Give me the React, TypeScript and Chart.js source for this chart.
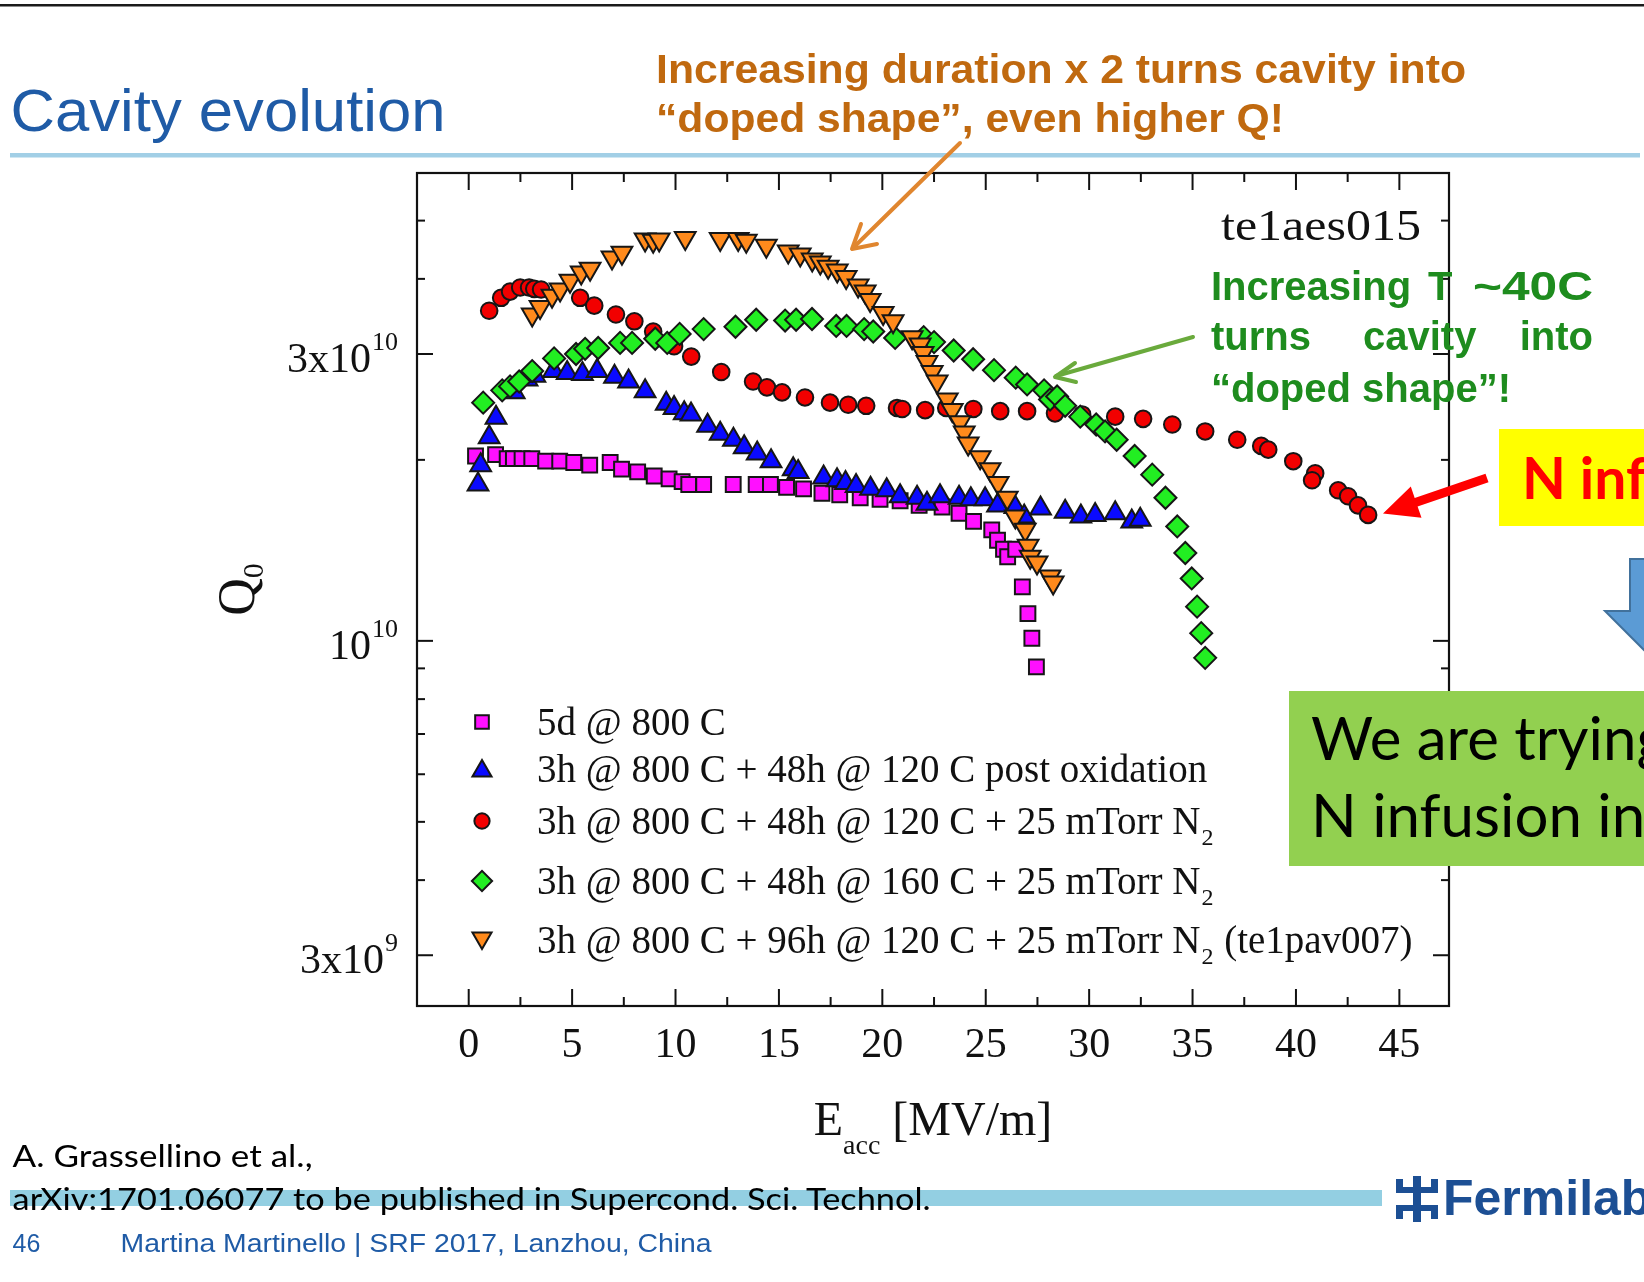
import React, { useEffect, useRef } from "react";
import { Chart, registerables } from "chart.js";

Chart.register(...registerables);

const W = 1644;
const H = 1282;

// ---------------- data ----------------
const SERIES_LABELS = [
  "5d @ 800 C",
  "3h @ 800 C + 48h @ 120 C post oxidation",
  "3h @ 800 C + 48h @ 120 C + 25 mTorr N₂",
  "3h @ 800 C + 48h @ 160 C + 25 mTorr N₂",
  "3h @ 800 C + 96h @ 120 C + 25 mTorr N₂ (te1pav007)",
];

// Eacc [MV/m] and Q0 (in units of 1e10)
const E_5d800 = [0.33, 1.3, 1.86, 2.16, 2.58, 3.05, 3.72, 4.4, 5.08, 5.85, 6.84, 7.39, 8.17, 8.97, 9.69, 10.32, 10.64, 11.36, 12.79, 13.9, 14.59, 15.37, 16.19, 17.08, 17.94, 18.93, 19.89, 20.86, 21.78, 22.89, 23.71, 24.41, 25.29, 25.57, 25.86, 26.06, 26.45, 26.77, 27.04, 27.23, 27.45];
const Q_5d800 = [2.03, 2.04, 2.01, 2.01, 2.01, 2.01, 1.99, 1.99, 1.98, 1.96, 1.98, 1.93, 1.91, 1.88, 1.86, 1.84, 1.82, 1.82, 1.82, 1.82, 1.82, 1.8, 1.79, 1.76, 1.75, 1.73, 1.72, 1.71, 1.68, 1.67, 1.63, 1.58, 1.53, 1.47, 1.42, 1.38, 1.42, 1.23, 1.11, 1.01, 0.905];

const E_postOx = [0.45, 0.58, 0.99, 1.32, 2.2, 2.82, 3.2, 4.1, 4.76, 5.5, 6.21, 7.05, 7.73, 8.53, 9.55, 9.93, 10.42, 10.75, 11.55, 12.16, 12.8, 13.32, 13.95, 14.62, 15.69, 15.93, 17.16, 17.81, 18.22, 18.73, 19.43, 20.21, 20.86, 21.68, 22.16, 22.79, 23.71, 24.28, 24.97, 25.57, 26.41, 26.86, 27.65, 28.84, 29.6, 30.29, 31.26, 32.06, 32.47];
const Q_postOx = [1.82, 1.96, 2.18, 2.35, 2.59, 2.72, 2.76, 2.81, 2.79, 2.78, 2.81, 2.75, 2.7, 2.6, 2.48, 2.44, 2.39, 2.38, 2.28, 2.21, 2.16, 2.1, 2.05, 1.99, 1.93, 1.91, 1.87, 1.85, 1.83, 1.81, 1.79, 1.78, 1.74, 1.73, 1.69, 1.74, 1.73, 1.72, 1.72, 1.68, 1.67, 1.61, 1.66, 1.64, 1.61, 1.62, 1.63, 1.58, 1.59];

const E_120N2 = [0.99, 1.57, 2.0, 2.49, 2.92, 3.17, 3.5, 5.39, 6.07, 7.12, 8.01, 8.92, 9.93, 10.76, 12.21, 13.75, 14.42, 15.15, 16.26, 17.47, 18.35, 19.22, 20.71, 20.96, 22.07, 23.09, 24.4, 25.7, 27.0, 28.35, 29.66, 31.26, 32.61, 34.02, 35.61, 37.16, 38.32, 38.66, 39.87, 40.93, 40.78, 42.04, 42.52, 43.0, 43.49];
const Q_120N2 = [3.54, 3.72, 3.81, 3.87, 3.87, 3.85, 3.84, 3.72, 3.61, 3.49, 3.4, 3.27, 3.09, 2.97, 2.8, 2.7, 2.64, 2.59, 2.54, 2.49, 2.47, 2.46, 2.44, 2.43, 2.42, 2.44, 2.43, 2.41, 2.41, 2.39, 2.38, 2.36, 2.34, 2.29, 2.23, 2.16, 2.11, 2.08, 1.99, 1.9, 1.85, 1.78, 1.74, 1.68, 1.62];

const E_160N2 = [0.7, 1.62, 2.0, 2.44, 3.07, 4.13, 5.19, 5.63, 6.26, 7.32, 7.9, 9.02, 9.6, 10.2, 11.36, 12.9, 13.9, 15.3, 15.83, 16.6, 17.77, 18.27, 19.12, 19.56, 20.62, 22.0, 22.5, 23.45, 24.39, 25.4, 26.45, 27.0, 27.82, 28.11, 28.45, 28.84, 29.57, 30.34, 30.77, 31.33, 32.2, 33.05, 33.69, 34.26, 34.65, 34.96, 35.22, 35.42, 35.61];
const Q_160N2 = [2.49, 2.61, 2.65, 2.7, 2.81, 2.95, 3.0, 3.06, 3.07, 3.13, 3.13, 3.18, 3.13, 3.24, 3.3, 3.33, 3.42, 3.41, 3.42, 3.43, 3.34, 3.34, 3.3, 3.27, 3.19, 3.2, 3.14, 3.04, 2.94, 2.82, 2.74, 2.67, 2.61, 2.52, 2.55, 2.46, 2.36, 2.29, 2.23, 2.16, 2.03, 1.89, 1.73, 1.55, 1.4, 1.27, 1.14, 1.03, 0.937];

const E_96h = [3.07, 3.45, 4.03, 4.42, 4.9, 5.44, 5.87, 6.93, 7.41, 8.53, 8.92, 9.21, 10.47, 12.16, 13.03, 13.42, 14.39, 15.45, 16.03, 16.61, 17.0, 17.38, 17.82, 18.25, 18.83, 19.17, 19.41, 20.04, 20.52, 21.44, 21.83, 21.97, 22.16, 22.41, 22.65, 23.14, 23.38, 23.76, 23.96, 24.15, 24.73, 25.21, 25.6, 26.04, 26.43, 26.91, 27.05, 27.15, 27.48, 28.11, 28.26];
const Q_96h = [3.49, 3.59, 3.75, 3.84, 3.97, 4.1, 4.16, 4.34, 4.42, 4.65, 4.63, 4.65, 4.68, 4.66, 4.66, 4.63, 4.54, 4.44, 4.39, 4.31, 4.26, 4.19, 4.13, 4.03, 3.9, 3.81, 3.69, 3.51, 3.4, 3.2, 3.11, 3.01, 2.91, 2.8, 2.7, 2.52, 2.42, 2.31, 2.22, 2.13, 2.02, 1.93, 1.83, 1.73, 1.61, 1.53, 1.44, 1.38, 1.35, 1.28, 1.25];

// axes
const X_MIN = -2.5;
const X_MAX = 47.4;
const Y_MIN = 2.47e9;
const Y_MAX = 6.0e10;
const X_MAJOR_TICKS = [0, 5, 10, 15, 20, 25, 30, 35, 40, 45];
const X_MINOR_TICKS = [2.5, 7.5, 12.5, 17.5, 22.5, 27.5, 32.5, 37.5, 42.5];
const Y_MAJOR_TICKS = [3e9, 1e10, 3e10];
const Y_TICK_MAIN = ["3x10", "10", "3x10"];
const Y_TICK_SUP = ["9", "10", "10"];
const Y_MINOR_TICKS = [4e9, 5e9, 6e9, 7e9, 8e9, 9e9, 2e10, 4e10, 5e10];

// styles
const SERIES_STYLE = [
  { fill: "#ff10ff", shape: "rect", radius: 10.5, rotation: 0, order: 5 },
  { fill: "#0a0aff", shape: "triangle", radius: 12, rotation: 0, order: 4 },
  { fill: "#f20000", shape: "circle", radius: 8.3, rotation: 0, order: 3 },
  { fill: "#22ee22", shape: "rectRot", radius: 11, rotation: 0, order: 2 },
  { fill: "#ff8a1c", shape: "triangle", radius: 12, rotation: 180, order: 1 },
];
const SERIES_E = [E_5d800, E_postOx, E_120N2, E_160N2, E_96h];
const SERIES_Q = [Q_5d800, Q_postOx, Q_120N2, Q_160N2, Q_96h];

const SERIF = '"Liberation Serif", "Times New Roman", serif';
const EDGE = "#161616";

function drawMarker(ctx: CanvasRenderingContext2D, shape: string, x: number, y: number, r: number, rotation: number, fill: string) {
  ctx.beginPath();
  if (shape === "circle") {
    ctx.arc(x, y, r, 0, Math.PI * 2);
  } else if (shape === "rect") {
    const s = Math.SQRT1_2 * r;
    ctx.rect(x - s, y - s, 2 * s, 2 * s);
  } else if (shape === "rectRot") {
    ctx.moveTo(x - r, y);
    ctx.lineTo(x, y - r);
    ctx.lineTo(x + r, y);
    ctx.lineTo(x, y + r);
    ctx.closePath();
  } else {
    let a = (rotation * Math.PI) / 180;
    ctx.moveTo(x + Math.sin(a) * r, y - Math.cos(a) * r);
    a += (2 * Math.PI) / 3;
    ctx.lineTo(x + Math.sin(a) * r, y - Math.cos(a) * r);
    a += (2 * Math.PI) / 3;
    ctx.lineTo(x + Math.sin(a) * r, y - Math.cos(a) * r);
    ctx.closePath();
  }
  ctx.fillStyle = fill;
  ctx.fill();
  ctx.lineWidth = 2;
  ctx.strokeStyle = EDGE;
  ctx.stroke();
}

const framePlugin = {
  id: "frameAndText",
  afterDatasetsDraw(chart: any) {
    const ctx: CanvasRenderingContext2D = chart.ctx;
    const a = chart.chartArea;
    const xs = chart.scales.x;
    const ys = chart.scales.y;
    ctx.save();

    // frame
    ctx.strokeStyle = "#111";
    ctx.lineWidth = 2.2;
    ctx.strokeRect(a.left, a.top, a.right - a.left, a.bottom - a.top);

    const seg = (x1: number, y1: number, x2: number, y2: number) => {
      ctx.beginPath();
      ctx.moveTo(x1, y1);
      ctx.lineTo(x2, y2);
      ctx.stroke();
    };
    ctx.lineWidth = 2;
    X_MAJOR_TICKS.forEach((v) => {
      const px = xs.getPixelForValue(v);
      seg(px, a.bottom, px, a.bottom - 17);
      seg(px, a.top, px, a.top + 17);
    });
    X_MINOR_TICKS.forEach((v) => {
      const px = xs.getPixelForValue(v);
      seg(px, a.bottom, px, a.bottom - 9);
      seg(px, a.top, px, a.top + 9);
    });
    Y_MAJOR_TICKS.forEach((v) => {
      const py = ys.getPixelForValue(v);
      seg(a.left, py, a.left + 16, py);
      seg(a.right, py, a.right - 16, py);
    });
    Y_MINOR_TICKS.forEach((v) => {
      const py = ys.getPixelForValue(v);
      seg(a.left, py, a.left + 8, py);
      seg(a.right, py, a.right - 8, py);
    });

    ctx.fillStyle = "#111";
    // x tick labels
    ctx.font = `42px ${SERIF}`;
    ctx.textAlign = "center";
    ctx.textBaseline = "alphabetic";
    X_MAJOR_TICKS.forEach((v) => {
      ctx.fillText(String(v), xs.getPixelForValue(v), a.bottom + 51);
    });

    // y tick labels with superscripts
    ctx.textAlign = "left";
    Y_MAJOR_TICKS.forEach((v, i) => {
      const py = ys.getPixelForValue(v);
      ctx.font = `42px ${SERIF}`;
      const mw = ctx.measureText(Y_TICK_MAIN[i]).width;
      ctx.font = `26px ${SERIF}`;
      const sw = ctx.measureText(Y_TICK_SUP[i]).width;
      const right = a.left - 19;
      const sx = right - sw - mw - 1;
      ctx.font = `42px ${SERIF}`;
      ctx.fillText(Y_TICK_MAIN[i], sx, py + 18);
      ctx.font = `26px ${SERIF}`;
      ctx.fillText(Y_TICK_SUP[i], sx + mw + 1, py - 4);
    });

    // x-axis title: E_acc [MV/m]
    ctx.font = `48px ${SERIF}`;
    const wE = ctx.measureText("E").width;
    const wU = ctx.measureText(" [MV/m]").width;
    ctx.font = `28px ${SERIF}`;
    const wA = ctx.measureText("acc").width;
    const total = wE + wA + wU;
    let tx = (a.left + a.right) / 2 - total / 2;
    ctx.font = `48px ${SERIF}`;
    ctx.fillText("E", tx, a.bottom + 129);
    tx += wE;
    ctx.font = `28px ${SERIF}`;
    ctx.fillText("acc", tx, a.bottom + 148);
    tx += wA;
    ctx.font = `48px ${SERIF}`;
    ctx.fillText(" [MV/m]", tx, a.bottom + 129);

    // y-axis title: Q0 (rotated)
    ctx.save();
    ctx.translate(a.left - 163, (a.top + a.bottom) / 2);
    ctx.rotate(-Math.PI / 2);
    ctx.font = `52px ${SERIF}`;
    const wQ = ctx.measureText("Q").width;
    ctx.font = `30px ${SERIF}`;
    const w0 = ctx.measureText("0").width;
    const q0 = -(wQ + w0) / 2;
    ctx.font = `52px ${SERIF}`;
    ctx.fillText("Q", q0, 0);
    ctx.font = `30px ${SERIF}`;
    ctx.fillText("0", q0 + wQ, 9);
    ctx.restore();

    // legend
    const rowOffsets = [549, 596, 648, 708, 767];
    const mx = a.left + 65;
    const lx = a.left + 120;
    SERIES_LABELS.forEach((label, i) => {
      const st = SERIES_STYLE[i];
      const ry = a.top + rowOffsets[i];
      drawMarker(ctx, st.shape, mx, ry + (st.shape === "triangle" ? (st.rotation ? -2 : 2) : 0), st.radius * 0.92, st.rotation, st.fill);
      ctx.fillStyle = "#111";
      const parts = label.split("₂");
      let x = lx;
      parts.forEach((p, k) => {
        ctx.font = `39px ${SERIF}`;
        ctx.fillText(p, x, ry + 13);
        x += ctx.measureText(p).width;
        if (k < parts.length - 1) {
          ctx.font = `24px ${SERIF}`;
          ctx.fillText("2", x + 1, ry + 24);
          x += ctx.measureText("2").width + 2;
        }
      });
    });

    ctx.restore();
  },
};

function buildConfig(): any {
  return {
    type: "scatter",
    data: {
      datasets: SERIES_LABELS.map((label, i) => {
        const st = SERIES_STYLE[i];
        return {
          label,
          data: SERIES_E[i].map((e, k) => ({ x: e, y: SERIES_Q[i][k] * 1e10 })),
          pointStyle: st.shape,
          pointRadius: st.radius,
          pointHoverRadius: st.radius,
          pointRotation: st.rotation,
          pointBackgroundColor: st.fill,
          pointBorderColor: EDGE,
          pointBorderWidth: 2,
          backgroundColor: st.fill,
          borderColor: EDGE,
          showLine: false,
          order: st.order,
          clip: false,
        };
      }),
    },
    options: {
      responsive: false,
      maintainAspectRatio: false,
      animation: false,
      devicePixelRatio: 1,
      events: [],
      layout: { padding: { left: 417, top: 173, right: W - 1449, bottom: H - 1006 } },
      plugins: { legend: { display: false }, tooltip: { enabled: false }, title: { display: false } },
      scales: {
        x: { type: "linear", min: X_MIN, max: X_MAX, display: false },
        y: { type: "logarithmic", min: Y_MIN, max: Y_MAX, display: false },
      },
    },
    plugins: [framePlugin],
  };
}

function arrowPolygon(tx: number, ty: number, px: number, py: number, shaftHalf: number, headHalf: number, headLen: number) {
  const dx = px - tx;
  const dy = py - ty;
  const len = Math.hypot(dx, dy);
  const ux = dx / len;
  const uy = dy / len;
  const nx = -uy;
  const ny = ux;
  const bx = px - ux * headLen;
  const by = py - uy * headLen;
  const pts = [
    [tx + nx * shaftHalf, ty + ny * shaftHalf],
    [bx + nx * shaftHalf, by + ny * shaftHalf],
    [bx + nx * headHalf, by + ny * headHalf],
    [px, py],
    [bx - nx * headHalf, by - ny * headHalf],
    [bx - nx * shaftHalf, by - ny * shaftHalf],
    [tx - nx * shaftHalf, ty - ny * shaftHalf],
  ];
  return pts.map((p) => `${p[0].toFixed(1)},${p[1].toFixed(1)}`).join(" ");
}

const SANS = '"Liberation Sans", Arial, sans-serif';
const CAL = 'Lato, "Open Sans", sans-serif';
const TITLE_BLUE = "#1f5ba6";
const ORANGE_TXT = "#c0690f";
const GREEN_TXT = "#1e8c1e";

export default function App() {
  const canvasRef = useRef<HTMLCanvasElement | null>(null);

  useEffect(() => {
    const canvas = canvasRef.current;
    if (!canvas) return;
    const chart = new Chart(canvas, buildConfig());
    return () => chart.destroy();
  }, []);

  return (
    <div style={{ position: "absolute", left: 0, top: 0, width: W, height: H, overflow: "hidden", background: "#fff" }}>
      <canvas ref={canvasRef} width={W} height={H} style={{ position: "absolute", left: 0, top: 0, width: W, height: H }} />
      <svg width={W} height={H} style={{ position: "absolute", left: 0, top: 0, overflow: "hidden" }}>
        {/* slide frame lines */}
        <rect x={0} y={4} width={W} height={2.5} fill="#1a1a1a" />
        <rect x={10} y={153} width={1630} height={4.5} fill="#a2cfe6" />
        <text x={10.5} y={131} fontFamily={SANS} fontSize={59} fill={TITLE_BLUE} textLength={435} lengthAdjust="spacingAndGlyphs">
          Cavity evolution
        </text>

        {/* orange annotation */}
        <text x={656} y={83} fontFamily={SANS} fontWeight="bold" fontSize={41} fill={ORANGE_TXT} textLength={810} lengthAdjust="spacingAndGlyphs">
          Increasing duration x 2 turns cavity into
        </text>
        <text x={656} y={132} fontFamily={SANS} fontWeight="bold" fontSize={41} fill={ORANGE_TXT} textLength={628} lengthAdjust="spacingAndGlyphs">
          “doped shape”, even higher Q!
        </text>
        <line x1={960} y1={143} x2={853} y2={248} stroke="#e0862f" strokeWidth={4} strokeLinecap="round" />
        <polyline points="861,224 852,249 877,244" fill="none" stroke="#e0862f" strokeWidth={4} strokeLinecap="round" strokeLinejoin="round" />

        {/* sample name */}
        <text x={1221} y={240} fontFamily={SERIF} fontSize={44} fill="#111" textLength={200} lengthAdjust="spacingAndGlyphs">
          te1aes015
        </text>

        {/* green annotation */}
        <g fontFamily={SANS} fontWeight="bold" fontSize={40} fill={GREEN_TXT}>
          <text x={1211} y={300}>Increasing</text>
          <text x={1428} y={300}>T</text>
          <text x={1473} y={300} textLength={120} lengthAdjust="spacingAndGlyphs">~40C</text>
          <text x={1211} y={350}>turns</text>
          <text x={1363} y={350}>cavity</text>
          <text x={1593} y={350} textAnchor="end">into</text>
          <text x={1211} y={402}>“doped shape”!</text>
        </g>
        <line x1={1193} y1={337} x2={1056} y2={376} stroke="#6aaa3c" strokeWidth={4} strokeLinecap="round" />
        <polyline points="1075,363 1055,377 1076,382" fill="none" stroke="#6aaa3c" strokeWidth={4} strokeLinecap="round" strokeLinejoin="round" />

        {/* red arrow + yellow label */}
        <polygon points={arrowPolygon(1487, 478, 1383, 513.5, 4.5, 16.5, 35)} fill="#ff0000" />
        <rect x={1499} y={429} width={220} height={97} fill="#ffff00" />
        <text x={1522} y={499} fontFamily={CAL} fontWeight="bold" fontSize={57} fill="#ff0000">
          N infusion
        </text>

        {/* blue block arrow */}
        <polygon points="1630,559 1690,559 1690,611 1715,611 1660,666 1605,611 1630,611" fill="#5b9bd5" stroke="#41719c" strokeWidth={2} />

        {/* green box */}
        <rect x={1289} y={691} width={420} height={175} fill="#92d050" />
        <text x={1311} y={760} fontFamily={CAL} fontSize={60} fill="#000">
          We are trying
        </text>
        <text x={1311} y={837} fontFamily={CAL} fontSize={60} fill="#000">
          N infusion in
        </text>

        {/* footer */}
        <rect x={10} y={1190} width={1372} height={16} fill="#93cfe2" />
        <text x={12.6} y={1167} fontFamily={CAL} fontSize={30} fill="#000" textLength={300} lengthAdjust="spacingAndGlyphs">
          A. Grassellino et al.,
        </text>
        <text x={12.6} y={1210} fontFamily={CAL} fontSize={30} fill="#000" textLength={918} lengthAdjust="spacingAndGlyphs">
          arXiv:1701.06077 to be published in Supercond. Sci. Technol.
        </text>
        <text x={12.6} y={1252} fontFamily={SANS} fontSize={25} fill={TITLE_BLUE}>
          46
        </text>
        <text x={120.6} y={1252} fontFamily={SANS} fontSize={25} fill={TITLE_BLUE} textLength={591} lengthAdjust="spacingAndGlyphs">
          Martina Martinello | SRF 2017, Lanzhou, China
        </text>

        {/* Fermilab logo */}
        <g fill="#1c4f94">
          <rect x={1413} y={1176} width={8} height={46} />
          <rect x={1396} y={1187} width={42} height={6} />
          <rect x={1396} y={1205} width={42} height={6} />
          <rect x={1396} y={1179} width={7} height={14} />
          <rect x={1431} y={1179} width={7} height={14} />
          <rect x={1396} y={1205} width={7} height={14} />
          <rect x={1431} y={1205} width={7} height={14} />
        </g>
        <text x={1443} y={1215} fontFamily={SANS} fontWeight="bold" fontSize={50} fill="#1c4f94">
          Fermilab
        </text>
      </svg>
    </div>
  );
}
